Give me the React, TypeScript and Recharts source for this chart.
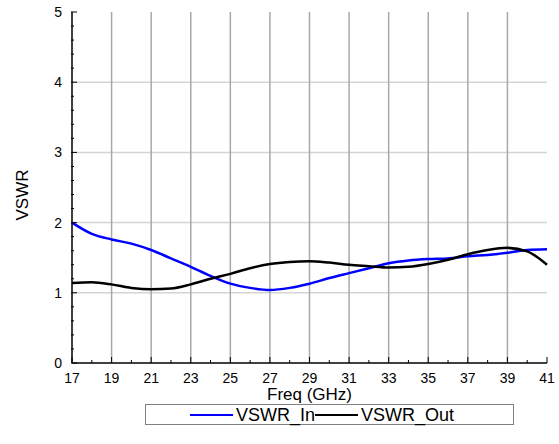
import React from 'react';
import { LineChart, Line, XAxis, YAxis, ReferenceLine } from 'recharts';

// frequency points (GHz)
const freq = [17, 18, 19, 20, 21, 22, 23, 24, 25, 26, 27, 28, 29, 30, 31, 32, 33, 34, 35, 36, 37, 38, 39, 40, 41];
const vswrIn = [2.0, 1.84, 1.76, 1.7, 1.61, 1.49, 1.37, 1.24, 1.13, 1.07, 1.04, 1.07, 1.13, 1.21, 1.28, 1.35, 1.42, 1.46, 1.48, 1.49, 1.52, 1.54, 1.57, 1.61, 1.62];
const vswrOut = [1.14, 1.15, 1.12, 1.07, 1.05, 1.06, 1.12, 1.2, 1.27, 1.35, 1.41, 1.44, 1.45, 1.43, 1.4, 1.38, 1.36, 1.37, 1.41, 1.47, 1.55, 1.61, 1.64, 1.59, 1.4];

const xMajor = [17, 19, 21, 23, 25, 27, 29, 31, 33, 35, 37, 39, 41];
const xGrid = [19, 21, 23, 25, 27, 29, 31, 33, 35, 37, 39];
const yTicks = [0, 0.2, 0.4, 0.6, 0.8, 1, 1.2, 1.4, 1.6, 1.8, 2, 2.2, 2.4, 2.6, 2.8, 3, 3.2, 3.4, 3.6, 3.8, 4, 4.2, 4.4, 4.6, 4.8, 5];
const yGrid = [1, 2, 3, 4];

const series = [
  { key: 'vswrIn', name: 'VSWR_In', color: '#0000ff' },
  { key: 'vswrOut', name: 'VSWR_Out', color: '#000000' },
];

const data = freq.map((f, i) => ({ freq: f, vswrIn: vswrIn[i], vswrOut: vswrOut[i] }));

const FONT = '"Liberation Sans", Arial, sans-serif';
const GAP = 10;

const isMajorX = (v: number) => xMajor.includes(v);
const isMajorY = (v: number) => Math.abs(v - Math.round(v)) < 1e-6;

const BottomTick = (props: any) => {
  const { x, y, payload } = props;
  const v = payload.value;
  const axisY = y - GAP;
  const major = isMajorX(v);
  return (
    <g>
      <line x1={x} x2={x} y1={axisY} y2={axisY - (major ? 6 : 3)} stroke="#000" />
      {major && (
        <text x={x} y={y} dy="0.71em" textAnchor="middle" fontSize={14} fontFamily={FONT} fill="#000">
          {v}
        </text>
      )}
    </g>
  );
};

const TopTick = (props: any) => {
  const { x, y, payload } = props;
  const major = isMajorX(payload.value);
  return <line x1={x} x2={x} y1={y} y2={y + (major ? 6 : 3)} stroke="#000" />;
};

const LeftTick = (props: any) => {
  const { x, y, payload } = props;
  const v = payload.value;
  const axisX = x + GAP - 1;
  const major = isMajorY(v);
  return (
    <g>
      <line x1={axisX} x2={axisX + (major ? 6 : 3)} y1={y} y2={y} stroke="#000" />
      {major && (
        <text x={x} y={y} dy="0.36em" textAnchor="end" fontSize={14} fontFamily={FONT} fill="#000">
          {Math.round(v)}
        </text>
      )}
    </g>
  );
};

const XLabel = (props: any) => {
  const { viewBox } = props;
  return (
    <text x={viewBox.x + viewBox.width / 2} y={viewBox.y + 37} textAnchor="middle" fontSize={17} fontFamily={FONT} fill="#000">
      Freq (GHz)
    </text>
  );
};

const YLabel = () => (
  <text x={22} y={195} textAnchor="middle" dominantBaseline="central" transform="rotate(-90, 22, 195)" fontSize={17} fontFamily={FONT} fill="#000">
    VSWR
  </text>
);

const LegendBox = () => (
  <div
    style={{
      position: 'absolute',
      left: 145,
      top: 404,
      width: 369,
      height: 21,
      boxSizing: 'border-box',
      border: '1px solid #808080',
      display: 'flex',
      alignItems: 'center',
      paddingLeft: 44,
      fontFamily: FONT,
      fontSize: 18,
      lineHeight: 1,
      background: '#fff',
    }}
  >
    {series.map((s) => (
      <React.Fragment key={s.key}>
        <span style={{ display: 'inline-block', width: 43, height: 2, background: s.color }} />
        <span style={{ marginLeft: 3 }}>{s.name}</span>
      </React.Fragment>
    ))}
  </div>
);

export default function App() {
  return (
    <div style={{ position: 'absolute', left: 0, top: 0, width: 559, height: 444, background: '#fff' }}>
      <LineChart width={559} height={444} data={data} margin={{ top: 12, right: 12, left: 0, bottom: 0 }}>
        <XAxis
          dataKey="freq"
          type="number"
          domain={[17, 41]}
          ticks={freq}
          interval={0}
          height={81}
          tickSize={0}
          tickMargin={GAP}
          tick={<BottomTick />}
          axisLine={{ stroke: '#000', strokeWidth: 1.5 }}
          label={{ content: <XLabel /> }}
        />
        <XAxis
          xAxisId="top"
          orientation="top"
          dataKey="freq"
          type="number"
          domain={[17, 41]}
          ticks={freq}
          interval={0}
          height={0}
          tickSize={0}
          tickMargin={0}
          tick={<TopTick />}
          axisLine={{ stroke: '#000', strokeWidth: 1.5 }}
        />
        <YAxis
          type="number"
          domain={[0, 5]}
          ticks={yTicks}
          interval={0}
          width={72}
          tickSize={0}
          tickMargin={GAP}
          tick={<LeftTick />}
          axisLine={{ stroke: '#000', strokeWidth: 1.5 }}
          label={{ content: <YLabel /> }}
        />
        <YAxis
          yAxisId="right"
          orientation="right"
          type="number"
          domain={[0, 5]}
          width={0}
          tick={false}
          tickLine={false}
          axisLine={{ stroke: '#000', strokeWidth: 1.5 }}
        />
        {yGrid.map((v) => (
          <ReferenceLine key={'h' + v} y={v} stroke="#d4d4d4" strokeWidth={1.5} />
        ))}
        {xGrid.map((v) => (
          <ReferenceLine key={'v' + v} x={v} stroke="#a8a8a8" strokeWidth={1.5} />
        ))}
        {series.map((s) => (
          <Line
            key={s.key}
            type="monotone"
            dataKey={s.key}
            name={s.name}
            stroke={s.color}
            strokeWidth={2.5}
            dot={false}
            isAnimationActive={false}
          />
        ))}
      </LineChart>
      <LegendBox />
    </div>
  );
}
